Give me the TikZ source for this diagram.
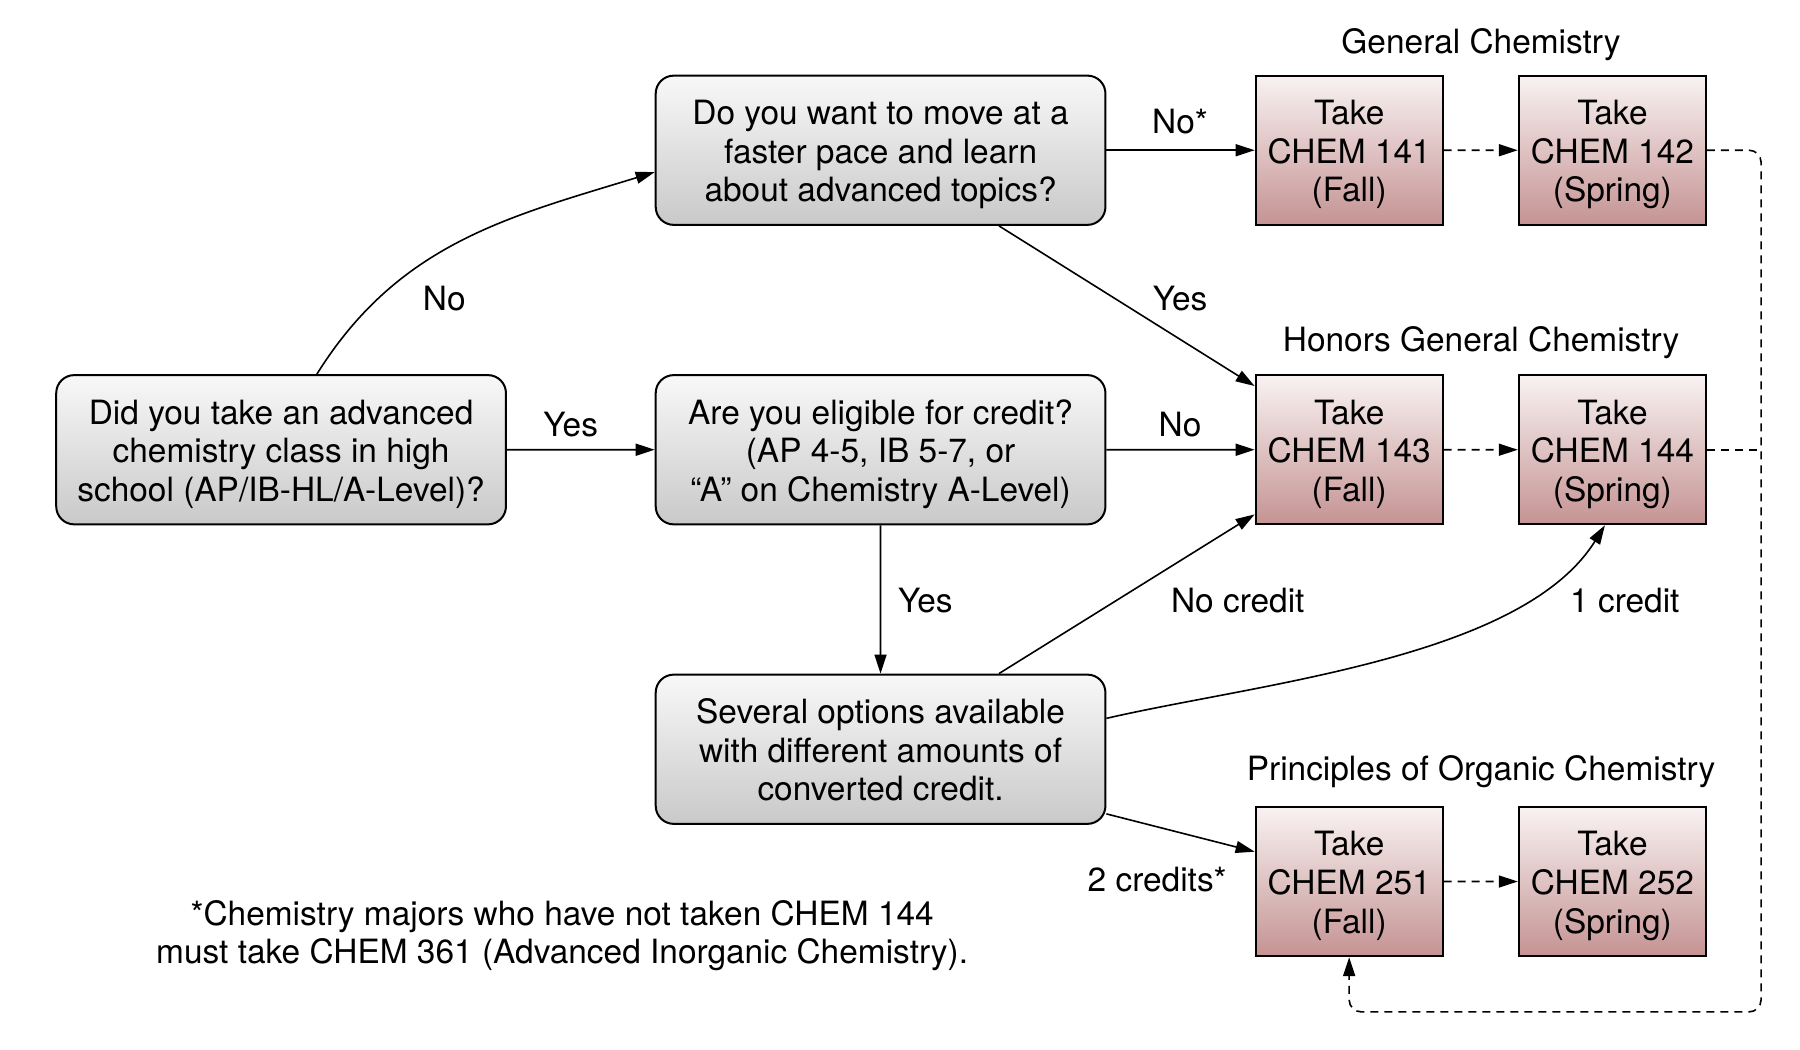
\documentclass[tikz,border=0pt]{standalone}
\usepackage{fontspec}
\setmainfont{TeX Gyre Heros}
\usetikzlibrary{arrows.meta,calc}
\definecolor{qtop}{HTML}{F8F8F8}
\definecolor{qbot}{HTML}{C9C9C9}
\definecolor{ctop}{HTML}{F9F2F2}
\definecolor{cbot}{HTML}{C59393}
\newcommand\fstrut{\rule{0pt}{34pt}}
\begin{document}
\begin{tikzpicture}[x=1pt,y=1pt,
  every node/.style={font=\fontsize{33.6}{38.8}\selectfont},
  boxtext/.style={align=center, inner sep=0pt,
    execute at end node={\rule[-8pt]{0pt}{8pt}}},
  qbox/.style={boxtext, draw=black, line width=2pt, rounded corners=18pt, top color=qtop, bottom color=qbot, minimum width=452pt, minimum height=150pt},
  cbox/.style={boxtext, draw=black, line width=2pt, top color=ctop, bottom color=cbot, minimum width=188pt, minimum height=150pt},
  arr/.style={line width=1.6pt, -{Triangle[length=19pt,width=12pt]}},
  darr/.style={arr, dash pattern=on 8pt off 6pt},
  dline/.style={line width=1.6pt, dash pattern=on 8pt off 6pt},
  lbl/.style={inner sep=0pt},
]
\useasboundingbox (0,0) rectangle (1800,-1050);
\begin{scope}[scale=0.995, transform shape]
\node[qbox] (A) at (282.5,-452) {\fstrut Did you take an advanced\\chemistry class in high\\school (AP/IB-HL/A-Level)?};
\node[qbox] (B) at (885,-151) {\fstrut Do you want to move at a\\faster pace and learn\\about advanced topics?};
\node[qbox] (C) at (885,-452) {\fstrut Are you eligible for credit?\\(AP 4-5, IB 5-7, or\\“A” on Chemistry A-Level)};
\node[qbox] (D) at (885,-753) {\fstrut Several options available\\with different amounts of\\converted credit.};

\node[cbox] (c141) at (1356,-151) {\fstrut Take\\CHEM 141\\(Fall)};
\node[cbox] (c142) at (1620.5,-151) {\fstrut Take\\CHEM 142\\(Spring)};
\node[cbox] (c143) at (1356,-452) {\fstrut Take\\CHEM 143\\(Fall)};
\node[cbox] (c144) at (1620.5,-452) {\fstrut Take\\CHEM 144\\(Spring)};
\node[cbox] (c251) at (1356,-886) {\fstrut Take\\CHEM 251\\(Fall)};
\node[cbox] (c252) at (1620.5,-886) {\fstrut Take\\CHEM 252\\(Spring)};

\node[lbl] (t1) at (1488.5,-45) {General Chemistry};
\node[lbl] (t2) at (1488.5,-344) {Honors General Chemistry};
\node[lbl] (t3) at (1488.5,-776) {Principles of Organic Chemistry};

\draw[arr] ([xshift=36pt]A.north) to[out=58,in=197] ([yshift=-22pt]B.west);
\draw[arr] (A) -- (C);
\draw[arr] (B) -- (c141);
\draw[arr] ([xshift=119pt]B.south) -- ([yshift=-12pt]c143.north west);
\draw[arr] (C) -- (c143);
\draw[arr] (C) -- (D);
\draw[arr] ([xshift=119pt]D.north) -- ([yshift=11pt]c143.south west);
\draw[arr] ([yshift=-45pt]D.north east) to[out=13,in=-122,looseness=0.75] ([xshift=-7.5pt]c144.south);
\draw[arr] ([yshift=11pt]D.south east) -- ([yshift=-46pt]c251.north west);

\draw[darr] (c141) -- (c142);
\draw[darr] (c143) -- (c144);
\draw[darr] (c251) -- (c252);
\coordinate (rx) at (1770,0);
\coordinate (by) at (0,-1017);
\draw[darr, rounded corners=12pt] (c142.east) -- (c142.east -| rx) -- (rx |- by) -- (c251.south |- by) -- (c251.south);
\draw[dline] (c144.east) -- (c144.east -| rx);

\node[lbl] (l1) at (446.5,-300) {No};
\node[lbl] (l2) at (573.5,-427) {Yes};
\node[lbl] (l3) at (1186,-122) {No*};
\node[lbl] (l4) at (1186,-300) {Yes};
\node[lbl] (l5) at (1186,-427) {No};
\node[lbl] (l6) at (930,-603.5) {Yes};
\node[lbl] (l7) at (1244,-603.5) {No credit};
\node[lbl] (l8) at (1633,-603.5) {1 credit};
\node[lbl] (l9) at (1163,-884) {2 credits*};

\node[lbl, align=center] (fn) at (565,-940.5) {*Chemistry majors who have not taken CHEM 144\\must take CHEM 361 (Advanced Inorganic Chemistry).};
\end{scope}
\end{tikzpicture}
\end{document}
